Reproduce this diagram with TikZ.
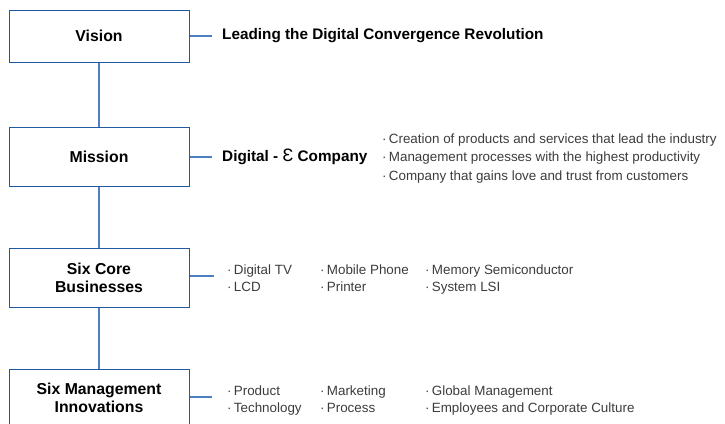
\documentclass[tikz,border=0pt]{standalone}
\usepackage{fontspec}
\setmainfont{Liberation Sans}
\usetikzlibrary{positioning}
\definecolor{boxblue}{RGB}{34,88,162}
\definecolor{lineblue}{RGB}{78,128,192}
\definecolor{itemgray}{RGB}{60,60,60}
\tikzset{
  stagebox/.style={draw=boxblue,line width=1pt,minimum width=180pt,align=center,
    font=\fontsize{15.8}{18}\selectfont\bfseries,inner sep=0pt},
  link/.style={draw=lineblue,line width=1.2pt},
  headtext/.style={anchor=west,inner sep=0pt,font=\fontsize{15.3}{17}\selectfont\bfseries},
  itemlist/.style={anchor=north west,inner sep=0pt,align=left,text=itemgray,
    font=\fontsize{13.4}{17.5}\selectfont}
}

\begin{document}
\begin{tikzpicture}[x=1pt,y=-1pt]
\useasboundingbox (0,0) rectangle (725,423);
\clip (0,0) rectangle (725,423);
% stages
\node[stagebox,minimum height=52pt] (vision) at (99,36) {Vision};
\node[stagebox,minimum height=59pt] (mission) at (99,156.5) {Mission};
\node[stagebox,minimum height=59pt] (core) at (99,277.5) {Six Core\\Businesses};
\node[stagebox,minimum height=58pt] (innov) at (99,398) {Six Management\\Innovations};
\draw[link] (vision)--(mission) (mission)--(core) (core)--(innov);
% side links
\coordinate (vE) at (212,36);
\coordinate (mE) at (212,157);
\coordinate (cE) at (214,276);
\coordinate (iE) at (212,397);
\draw[link] (vision.east|-vE)--(vE) (mission.east|-mE)--(mE)
  (core.east|-cE)--(cE) (innov.east|-iE)--(iE);
% texts
\node[headtext] (vtext) at (222,36) {Leading the Digital Convergence Revolution};
\node[headtext] (mtext) at (222,156.5) {Digital - {\mdseries\fontsize{18}{18}\selectfont Ɛ} Company};
\node[itemlist,font=\fontsize{13.4}{18.5}\selectfont] (mlist) at (382,133.2)
  {·\,Creation of products and services that lead the industry\\
   ·\,Management processes with the highest productivity\\
   ·\,Company that gains love and trust from customers};
\node[itemlist] (c1) at (227,264.2) {·\,Digital TV\\·\,LCD};
\node[itemlist] (c2) at (320,264.2) {·\,Mobile Phone\\·\,Printer};
\node[itemlist] (c3) at (425,264.2) {·\,Memory Semiconductor\\·\,System LSI};
\node[itemlist] (i1) at (227,385.2) {·\,Product\\·\,Technology};
\node[itemlist] (i2) at (320,385.2) {·\,Marketing\\·\,Process};
\node[itemlist] (i3) at (425,385.2) {·\,Global Management\\·\,Employees and Corporate Culture};
\end{tikzpicture}
\end{document}
